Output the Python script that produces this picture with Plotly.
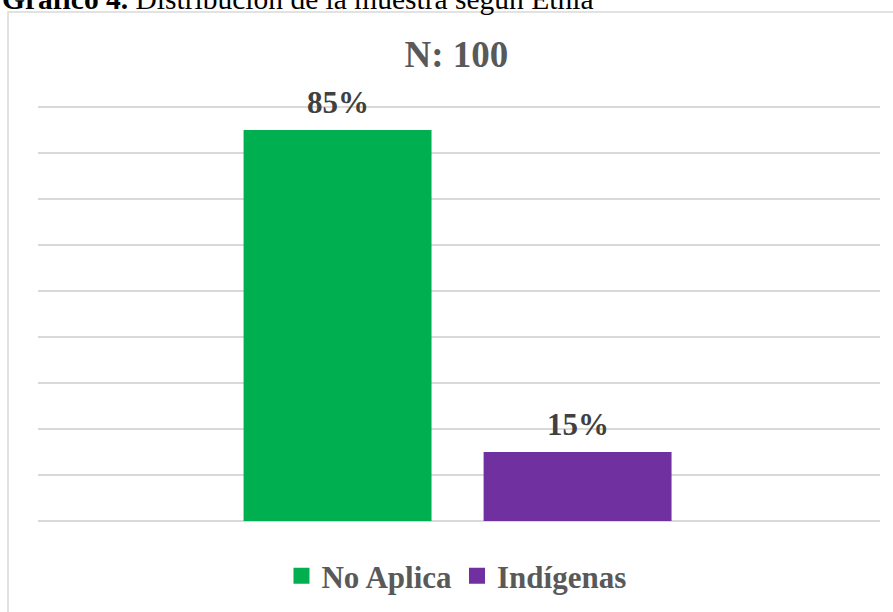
import plotly.graph_objects as go

# Sample distribution by ethnicity
categories = ["No Aplica", "Indígenas"]
shares = [0.85, 0.15]
colors = ["#00b050", "#7030a0"]

title_text = "N: 100"
caption_bold = "Gráfico 4."
caption_rest = "Distribución de la muestra según Etnia"

SERIF = "Liberation Serif"
W, H = 893, 612
L, R, T, B = 38, 13, 104, 91
plot_w = W - L - R
plot_h = H - T - B
PX_PER_UNIT = 460                  # 0.1 of the axis spans 46 px
Y_TOP = 0.9 + 3 / PX_PER_UNIT      # headroom so the 90% gridline is drawn

fig = go.Figure()
for cat, val, col in zip(categories, shares, colors):
    fig.add_trace(go.Bar(
        x=[cat], y=[val], name=cat, legendgroup=cat, showlegend=False,
        marker=dict(color=col, line=dict(width=0)),
        hoverinfo="skip",
    ))
    # legend entry with a larger square swatch
    fig.add_trace(go.Scatter(
        x=[None], y=[None], name=cat, legendgroup=cat, mode="markers",
        marker=dict(symbol="square", size=16, color=col, line=dict(width=0)),
        hoverinfo="skip",
    ))
    # value label above each bar
    fig.add_annotation(
        x=cat, y=val, xref="x", yref="y",
        text=f"<b>{val:.0%}</b>", showarrow=False,
        yanchor="middle", yshift=28,
        font=dict(family=SERIF, size=31, color="#404040"),
    )

# caption above the chart frame (partly outside the page)
fig.add_annotation(
    xref="paper", yref="paper",
    x=(0 - L) / plot_w, y=1 + (T + 1) / plot_h,
    xanchor="left", yanchor="middle",
    text=f"<b>{caption_bold}</b> {caption_rest}",
    showarrow=False,
    font=dict(family=SERIF, size=29.5, color="#000000"),
)

# chart frame
fig.add_shape(
    type="rect", xref="paper", yref="paper",
    x0=(8 - L) / plot_w, x1=(W + 20 - L) / plot_w,
    y0=-(B + 20) / plot_h, y1=1 + (T - 12) / plot_h,
    line=dict(color="#d9d9d9", width=1.5), fillcolor="rgba(0,0,0,0)",
    layer="below",
)

fig.update_layout(
    width=W, height=H,
    margin=dict(l=L, r=R, t=T, b=B, pad=0),
    paper_bgcolor="white", plot_bgcolor="white",
    barmode="overlay", bargap=0.217,
    showlegend=True,
    title=dict(
        text=f"<b>{title_text}</b>",
        xref="paper", x=0.497, xanchor="center",
        yref="container", y=1 - 54 / H, yanchor="middle",
        font=dict(family=SERIF, size=37, color="#595959"),
    ),
    legend=dict(
        orientation="h", xref="paper", x=0.497, xanchor="center",
        yref="container", y=1 - 576 / H, yanchor="middle",
        font=dict(family=SERIF, size=31, color="#595959", weight="bold"),
        itemsizing="trace", itemwidth=30,
        itemclick=False, itemdoubleclick=False,
    ),
    xaxis=dict(
        type="category", categoryorder="array", categoryarray=categories,
        range=[-1.248, 2.26], showticklabels=False, showgrid=False,
        zeroline=False, showline=False, fixedrange=True,
    ),
    yaxis=dict(
        range=[0, Y_TOP], dtick=0.1, tick0=0, showticklabels=False,
        showgrid=True, gridcolor="#d9d9d9", gridwidth=1.5,
        zeroline=True, zerolinecolor="#d9d9d9", zerolinewidth=2,
        showline=False, fixedrange=True,
    ),
)

fig.write_html("out.html")
